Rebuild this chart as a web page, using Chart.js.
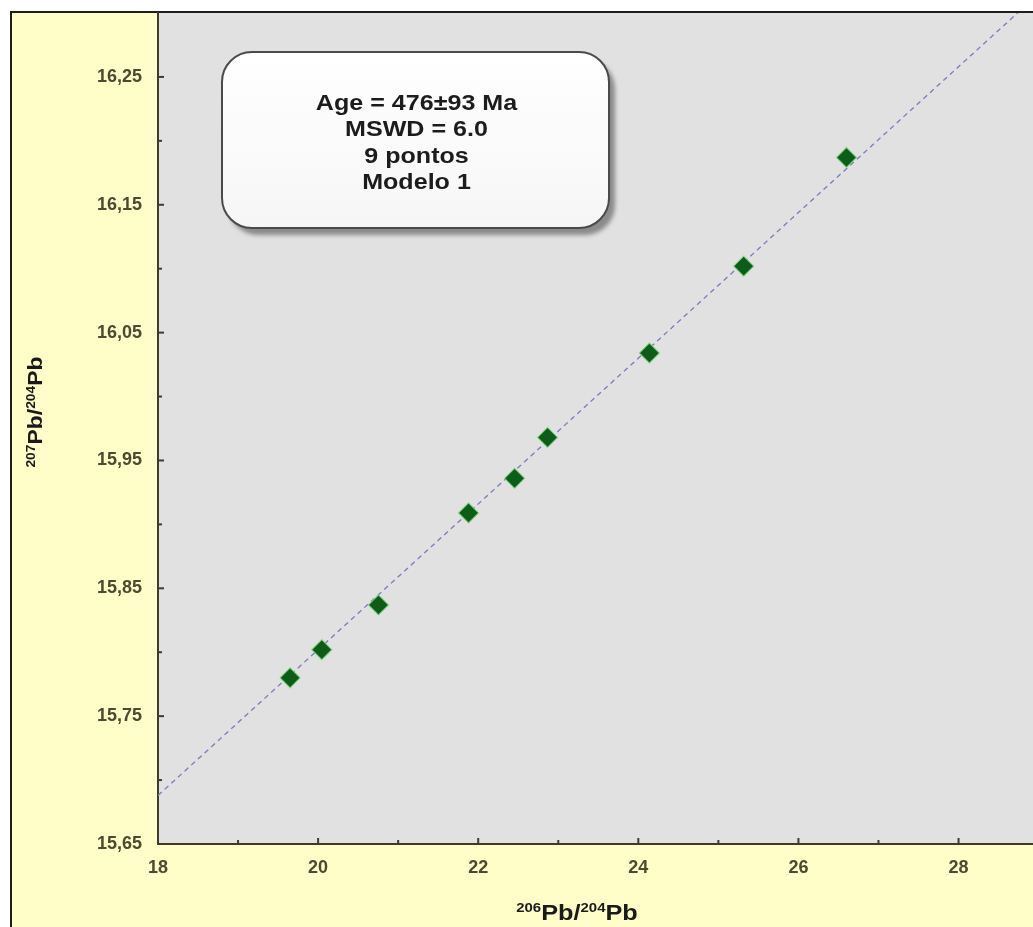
<!DOCTYPE html>
<html><head><meta charset="utf-8">
<script src="https://cdn.jsdelivr.net/npm/chart.js@4/dist/chart.umd.min.js"></script>
<style>html,body{margin:0;padding:0;background:#fff;} canvas{display:block;}</style>
</head><body>
<canvas id="c" width="1033" height="927"></canvas>
<script>
// ---- data ----
const pb206_204 = [19.65, 20.046, 20.754, 21.879, 22.454, 22.866, 24.138, 25.316, 26.60];
const pb207_204 = [15.780, 15.802, 15.837, 15.909, 15.936, 15.968, 16.034, 16.102, 16.187];
const isochronX = [18, 28.93];
const isochronY = [15.688, 16.311];
const xTicks = [18, 20, 22, 24, 26, 28];
const xMinorTicks = [19, 21, 23, 25, 27];
const yTicks = [15.65, 15.75, 15.85, 15.95, 16.05, 16.15, 16.25];
const yTickLabels = ['15,65', '15,75', '15,85', '15,95', '16,05', '16,15', '16,25'];
const yMinorTicks = [15.70, 15.80, 15.90, 16.00, 16.10, 16.20];
const infoLines = ['Age = 476±93 Ma', 'MSWD = 6.0', '9 pontos', 'Modelo 1'];
const xTitleParts = [['206', true], ['Pb', false], ['/', false], ['204', true], ['Pb', false]];
const yTitleParts = [['207', true], ['Pb', false], ['/', false], ['204', true], ['Pb', false]];

const FONT = '"Liberation Sans", Arial, Helvetica, sans-serif';
const AXIS_COLOR = '#3f3b2a';
const LABEL_COLOR = '#4d4a30';

function drawRich(ctx, parts, cx, baseline, bigSize, smallSize, rise, stretch) {
  ctx.save();
  ctx.translate(cx, baseline);
  ctx.scale(stretch, 1);
  let total = 0;
  const widths = parts.map(([t, sup]) => {
    ctx.font = 'bold ' + (sup ? smallSize : bigSize) + 'px ' + FONT;
    const w = ctx.measureText(t).width; total += w; return w;
  });
  let x = -total / 2;
  ctx.textAlign = 'left'; ctx.textBaseline = 'alphabetic';
  parts.forEach(([t, sup], i) => {
    ctx.font = 'bold ' + (sup ? smallSize : bigSize) + 'px ' + FONT;
    ctx.fillText(t, x, sup ? -rise : 0);
    x += widths[i];
  });
  ctx.restore();
}

const decorPlugin = {
  id: 'decor',
  beforeDraw(chart) {
    const {ctx, chartArea: a, width, height} = chart;
    ctx.save();
    ctx.fillStyle = '#ffffff'; ctx.fillRect(0, 0, width, height);
    ctx.fillStyle = '#fffdc8'; ctx.fillRect(11, 12, width - 11, height - 12);
    ctx.fillStyle = '#e1e1e1'; ctx.fillRect(a.left, a.top, a.right - a.left, a.bottom - a.top);
    ctx.strokeStyle = '#1e1e1e'; ctx.lineWidth = 2;
    ctx.beginPath(); ctx.moveTo(11, height); ctx.lineTo(11, 12); ctx.lineTo(width, 12); ctx.stroke();
    ctx.restore();
  },
  afterDraw(chart) {
    const {ctx, chartArea: a} = chart;
    const xs = chart.scales.x, ys = chart.scales.y;
    ctx.save();
    // inward ticks
    ctx.strokeStyle = AXIS_COLOR; ctx.lineWidth = 2;
    const seg = (x1, y1, x2, y2) => { ctx.beginPath(); ctx.moveTo(x1, y1); ctx.lineTo(x2, y2); ctx.stroke(); };
    xTicks.forEach(v => { const p = xs.getPixelForValue(v); seg(p, a.bottom, p, a.bottom - 6); });
    xMinorTicks.forEach(v => { const p = xs.getPixelForValue(v); seg(p, a.bottom, p, a.bottom - 4); });
    yTicks.forEach(v => { const p = ys.getPixelForValue(v); seg(a.left, p, a.left + 6, p); });
    yMinorTicks.forEach(v => { const p = ys.getPixelForValue(v); seg(a.left, p, a.left + 4, p); });

    // info box
    const bx = 222, by = 52, bw = 387, bh = 176, r = 30;
    const rr = (x, y, w, h) => {
      ctx.beginPath();
      ctx.moveTo(x + r, y); ctx.lineTo(x + w - r, y); ctx.arcTo(x + w, y, x + w, y + r, r);
      ctx.lineTo(x + w, y + h - r); ctx.arcTo(x + w, y + h, x + w - r, y + h, r);
      ctx.lineTo(x + r, y + h); ctx.arcTo(x, y + h, x, y + h - r, r);
      ctx.lineTo(x, y + r); ctx.arcTo(x, y, x + r, y, r); ctx.closePath();
    };
    ctx.save();
    ctx.filter = 'blur(2px)';
    ctx.fillStyle = 'rgba(110,110,110,0.75)';
    rr(bx + 6, by + 7, bw, bh); ctx.fill();
    ctx.restore();
    const g = ctx.createLinearGradient(0, by, 0, by + bh);
    g.addColorStop(0, '#ffffff'); g.addColorStop(1, '#f6f6f6');
    ctx.fillStyle = g; rr(bx, by, bw, bh); ctx.fill();
    ctx.strokeStyle = '#4a4a4a'; ctx.lineWidth = 2; rr(bx, by, bw, bh); ctx.stroke();
    ctx.fillStyle = '#1c1c1c'; ctx.font = 'bold 22px ' + FONT;
    ctx.textAlign = 'center'; ctx.textBaseline = 'middle';
    infoLines.forEach((t, i) => {
      ctx.save();
      ctx.translate(bx + bw / 2 + 1, 103.5 + i * 26.6);
      ctx.scale(1.14, 1);
      ctx.fillText(t, 0, 0);
      ctx.restore();
    });

    // axis titles
    ctx.fillStyle = '#1a1a1a';
    drawRich(ctx, xTitleParts, 577, 920, 22, 13, 8, 1.15);
    ctx.translate(42, 412); ctx.rotate(-Math.PI / 2);
    drawRich(ctx, yTitleParts, 0, 0, 20, 12, 7, 1.15);
    ctx.restore();
  }
};

const points = pb206_204.map((x, i) => ({x, y: pb207_204[i]}));
const isochron = isochronX.map((x, i) => ({x, y: isochronY[i]}));

new Chart(document.getElementById('c'), {
  type: 'scatter',
  data: {
    datasets: [
      {
        label: 'Amostras',
        data: points,
        pointStyle: 'rectRot',
        pointRadius: 10,
        pointBackgroundColor: '#0b5d17',
        pointBorderColor: 'rgba(130,215,130,0.75)',
        pointBorderWidth: 1.2
      },
      {
        label: 'Isócrona',
        data: isochron,
        showLine: true,
        pointRadius: 0,
        borderColor: '#7b78c4',
        borderWidth: 1.3,
        borderDash: [5, 4],
        fill: false
      }
    ]
  },
  options: {
    responsive: false,
    animation: false,
    layout: {autoPadding: false, padding: {top: 13, left: 0, right: 0, bottom: 0}},
    plugins: {legend: {display: false}, tooltip: {enabled: false}},
    scales: {
      x: {
        type: 'linear', min: 18, max: 28.93,
        afterBuildTicks: s => { s.ticks = xTicks.map(v => ({value: v})); },
        afterFit: s => { s.height = 83; s.paddingLeft = 0; s.paddingRight = 0; },
        grid: {display: false, drawTicks: false},
        border: {display: true, color: AXIS_COLOR, width: 2},
        ticks: {
          padding: 13, color: LABEL_COLOR, maxRotation: 0,
          font: {family: FONT, size: 18, weight: 'bold'},
          callback: v => String(v)
        }
      },
      y: {
        type: 'linear', min: 15.65, max: 16.30,
        afterBuildTicks: s => { s.ticks = yTicks.map(v => ({value: v})); },
        afterFit: s => { s.width = 158; s.paddingTop = 0; s.paddingBottom = 0; },
        grid: {display: false, drawTicks: false},
        border: {display: true, color: AXIS_COLOR, width: 2},
        ticks: {
          padding: 16, color: LABEL_COLOR,
          font: {family: FONT, size: 18, weight: 'bold'},
          callback: (v, i) => yTickLabels[i]
        }
      }
    }
  },
  plugins: [decorPlugin]
});
</script>
</body></html>
